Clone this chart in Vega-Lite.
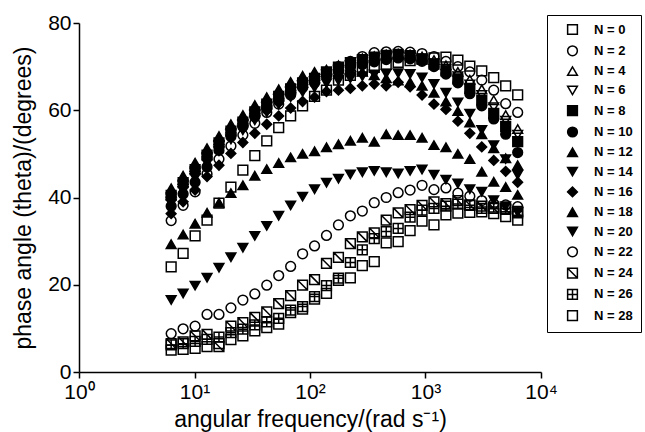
{
"$schema":"https://vega.github.io/schema/vega-lite/v6.json",
"width":462,"height":349,
"autosize":{"type":"none"},
"padding":{"left":79,"top":23,"right":104,"bottom":60},
"background":"white",
"config":{"view":{"stroke":null},"font":"Liberation Sans",
"axis":{"domainColor":"black","tickColor":"black","labelColor":"black","titleColor":"black","grid":false,"labelFontSize":21,"titleFontSize":23,"titleFontWeight":"normal","domainWidth":1.5,"tickWidth":1.5,"tickSize":6,"labelFont":"Liberation Sans","titleFont":"Liberation Sans"},
"legend":{"orient":"none","legendX":468,"legendY":-8,"strokeColor":"black","padding":8,"rowPadding":4.3,"labelFontSize":13,"labelFontWeight":"bold","labelFont":"Liberation Sans","labelColor":"black","symbolSize":95,"symbolStrokeWidth":1.5,"symbolStrokeColor":"black","direction":"vertical","columns":1}},
"data":{"values":[
{"N":0,"f":6.28,"y":24.1},{"N":0,"f":7.97,"y":27.2},{"N":0,"f":10.12,"y":31.2},{"N":0,"f":12.84,"y":34.8},{"N":0,"f":16.29,"y":38.7},{"N":0,"f":20.67,"y":42.4},{"N":0,"f":26.23,"y":46.3},{"N":0,"f":33.28,"y":49.6},{"N":0,"f":42.23,"y":53.0},{"N":0,"f":53.58,"y":56.0},{"N":0,"f":67.99,"y":58.7},{"N":0,"f":86.27,"y":61.0},{"N":0,"f":109.5,"y":63.2},{"N":0,"f":138.9,"y":64.6},{"N":0,"f":176.3,"y":66.9},{"N":0,"f":223.6,"y":68.0},{"N":0,"f":283.8,"y":69.0},{"N":0,"f":360.1,"y":69.8},{"N":0,"f":456.9,"y":70.5},{"N":0,"f":579.8,"y":71.0},{"N":0,"f":735.7,"y":71.4},{"N":0,"f":933.5,"y":71.7},{"N":0,"f":1184,"y":72.0},{"N":0,"f":1503,"y":72.2},{"N":0,"f":1907,"y":71.5},{"N":0,"f":2420,"y":70.1},{"N":0,"f":3071,"y":69.0},{"N":0,"f":3897,"y":67.5},{"N":0,"f":4945,"y":65.6},{"N":0,"f":6283,"y":63.5},
{"N":2,"f":6.28,"y":34.7},{"N":2,"f":7.97,"y":38.2},{"N":2,"f":10.12,"y":41.3},{"N":2,"f":12.84,"y":45.4},{"N":2,"f":16.29,"y":48.8},{"N":2,"f":20.67,"y":51.8},{"N":2,"f":26.23,"y":54.3},{"N":2,"f":33.28,"y":57.0},{"N":2,"f":42.23,"y":59.5},{"N":2,"f":53.58,"y":61.4},{"N":2,"f":67.99,"y":63.5},{"N":2,"f":86.27,"y":65.5},{"N":2,"f":109.5,"y":67.0},{"N":2,"f":138.9,"y":68.5},{"N":2,"f":176.3,"y":70.0},{"N":2,"f":223.6,"y":71.2},{"N":2,"f":283.8,"y":72.3},{"N":2,"f":360.1,"y":73.2},{"N":2,"f":456.9,"y":73.4},{"N":2,"f":579.8,"y":73.5},{"N":2,"f":735.7,"y":73.3},{"N":2,"f":933.5,"y":73.0},{"N":2,"f":1184,"y":72.3},{"N":2,"f":1503,"y":71.2},{"N":2,"f":1907,"y":70.0},{"N":2,"f":2420,"y":68.8},{"N":2,"f":3071,"y":66.9},{"N":2,"f":3897,"y":64.6},{"N":2,"f":4945,"y":61.5},{"N":2,"f":6283,"y":59.5},
{"N":4,"f":6.28,"y":41.1},{"N":4,"f":7.97,"y":44.0},{"N":4,"f":10.12,"y":47.0},{"N":4,"f":12.84,"y":50.3},{"N":4,"f":16.29,"y":53.1},{"N":4,"f":20.67,"y":55.8},{"N":4,"f":26.23,"y":57.9},{"N":4,"f":33.28,"y":60.2},{"N":4,"f":42.23,"y":62.0},{"N":4,"f":53.58,"y":63.8},{"N":4,"f":67.99,"y":65.5},{"N":4,"f":86.27,"y":66.9},{"N":4,"f":109.5,"y":67.9},{"N":4,"f":138.9,"y":69.2},{"N":4,"f":176.3,"y":70.3},{"N":4,"f":223.6,"y":71.2},{"N":4,"f":283.8,"y":71.9},{"N":4,"f":360.1,"y":72.4},{"N":4,"f":456.9,"y":72.8},{"N":4,"f":579.8,"y":73.0},{"N":4,"f":735.7,"y":72.8},{"N":4,"f":933.5,"y":72.3},{"N":4,"f":1184,"y":71.5},{"N":4,"f":1503,"y":70.3},{"N":4,"f":1907,"y":68.8},{"N":4,"f":2420,"y":67.0},{"N":4,"f":3071,"y":64.8},{"N":4,"f":3897,"y":62.3},{"N":4,"f":4945,"y":58.9},{"N":4,"f":6283,"y":55.7},
{"N":6,"f":6.28,"y":39.8},{"N":6,"f":7.97,"y":42.7},{"N":6,"f":10.12,"y":45.7},{"N":6,"f":12.84,"y":49.0},{"N":6,"f":16.29,"y":51.8},{"N":6,"f":20.67,"y":54.5},{"N":6,"f":26.23,"y":56.6},{"N":6,"f":33.28,"y":58.9},{"N":6,"f":42.23,"y":60.7},{"N":6,"f":53.58,"y":62.5},{"N":6,"f":67.99,"y":64.2},{"N":6,"f":86.27,"y":65.6},{"N":6,"f":109.5,"y":66.6},{"N":6,"f":138.9,"y":68.2},{"N":6,"f":176.3,"y":69.3},{"N":6,"f":223.6,"y":70.3},{"N":6,"f":283.8,"y":71.0},{"N":6,"f":360.1,"y":71.6},{"N":6,"f":456.9,"y":72.0},{"N":6,"f":579.8,"y":72.3},{"N":6,"f":735.7,"y":72.1},{"N":6,"f":933.5,"y":71.6},{"N":6,"f":1184,"y":70.8},{"N":6,"f":1503,"y":69.5},{"N":6,"f":1907,"y":67.8},{"N":6,"f":2420,"y":65.9},{"N":6,"f":3071,"y":63.5},{"N":6,"f":3897,"y":60.7},{"N":6,"f":4945,"y":57.6},{"N":6,"f":6283,"y":54.4},
{"N":8,"f":6.28,"y":40.5},{"N":8,"f":7.97,"y":43.4},{"N":8,"f":10.12,"y":46.4},{"N":8,"f":12.84,"y":49.7},{"N":8,"f":16.29,"y":52.5},{"N":8,"f":20.67,"y":55.2},{"N":8,"f":26.23,"y":57.3},{"N":8,"f":33.28,"y":59.6},{"N":8,"f":42.23,"y":61.4},{"N":8,"f":53.58,"y":63.2},{"N":8,"f":67.99,"y":64.9},{"N":8,"f":86.27,"y":66.3},{"N":8,"f":109.5,"y":67.3},{"N":8,"f":138.9,"y":68.8},{"N":8,"f":176.3,"y":69.9},{"N":8,"f":223.6,"y":70.9},{"N":8,"f":283.8,"y":71.6},{"N":8,"f":360.1,"y":72.2},{"N":8,"f":456.9,"y":72.6},{"N":8,"f":579.8,"y":72.8},{"N":8,"f":735.7,"y":72.5},{"N":8,"f":933.5,"y":71.8},{"N":8,"f":1184,"y":70.6},{"N":8,"f":1503,"y":69.0},{"N":8,"f":1907,"y":67.2},{"N":8,"f":2420,"y":65.0},{"N":8,"f":3071,"y":62.3},{"N":8,"f":3897,"y":59.3},{"N":8,"f":4945,"y":56.3},{"N":8,"f":6283,"y":52.8},
{"N":10,"f":6.28,"y":38.0},{"N":10,"f":7.97,"y":40.8},{"N":10,"f":10.12,"y":43.5},{"N":10,"f":12.84,"y":47.0},{"N":10,"f":16.29,"y":50.8},{"N":10,"f":20.67,"y":54.0},{"N":10,"f":26.23,"y":56.2},{"N":10,"f":33.28,"y":58.5},{"N":10,"f":42.23,"y":60.3},{"N":10,"f":53.58,"y":62.1},{"N":10,"f":67.99,"y":63.8},{"N":10,"f":86.27,"y":65.2},{"N":10,"f":109.5,"y":66.3},{"N":10,"f":138.9,"y":67.8},{"N":10,"f":176.3,"y":68.9},{"N":10,"f":223.6,"y":69.8},{"N":10,"f":283.8,"y":70.5},{"N":10,"f":360.1,"y":71.1},{"N":10,"f":456.9,"y":71.6},{"N":10,"f":579.8,"y":72.0},{"N":10,"f":735.7,"y":71.8},{"N":10,"f":933.5,"y":71.2},{"N":10,"f":1184,"y":70.0},{"N":10,"f":1503,"y":68.3},{"N":10,"f":1907,"y":66.3},{"N":10,"f":2420,"y":63.8},{"N":10,"f":3071,"y":61.0},{"N":10,"f":3897,"y":58.0},{"N":10,"f":4945,"y":54.5},{"N":10,"f":6283,"y":50.3},
{"N":12,"f":6.28,"y":42.1},{"N":12,"f":7.97,"y":45.0},{"N":12,"f":10.12,"y":48.0},{"N":12,"f":12.84,"y":51.3},{"N":12,"f":16.29,"y":54.1},{"N":12,"f":20.67,"y":56.8},{"N":12,"f":26.23,"y":58.9},{"N":12,"f":33.28,"y":61.2},{"N":12,"f":42.23,"y":63.0},{"N":12,"f":53.58,"y":64.8},{"N":12,"f":67.99,"y":66.5},{"N":12,"f":86.27,"y":67.9},{"N":12,"f":109.5,"y":68.8},{"N":12,"f":138.9,"y":69.3},{"N":12,"f":176.3,"y":69.5},{"N":12,"f":223.6,"y":69.3},{"N":12,"f":283.8,"y":68.8},{"N":12,"f":360.1,"y":68.0},{"N":12,"f":456.9,"y":67.3},{"N":12,"f":579.8,"y":66.8},{"N":12,"f":735.7,"y":66.4},{"N":12,"f":933.5,"y":65.6},{"N":12,"f":1184,"y":64.0},{"N":12,"f":1503,"y":62.0},{"N":12,"f":1907,"y":59.8},{"N":12,"f":2420,"y":57.2},{"N":12,"f":3071,"y":54.5},{"N":12,"f":3897,"y":51.3},{"N":12,"f":4945,"y":49.0},{"N":12,"f":6283,"y":47.4},
{"N":14,"f":6.28,"y":38.6},{"N":14,"f":7.97,"y":41.5},{"N":14,"f":10.12,"y":44.5},{"N":14,"f":12.84,"y":47.8},{"N":14,"f":16.29,"y":50.6},{"N":14,"f":20.67,"y":53.3},{"N":14,"f":26.23,"y":55.4},{"N":14,"f":33.28,"y":57.7},{"N":14,"f":42.23,"y":59.5},{"N":14,"f":53.58,"y":61.3},{"N":14,"f":67.99,"y":63.0},{"N":14,"f":86.27,"y":64.2},{"N":14,"f":109.5,"y":65.2},{"N":14,"f":138.9,"y":66.2},{"N":14,"f":176.3,"y":66.8},{"N":14,"f":223.6,"y":67.3},{"N":14,"f":283.8,"y":67.8},{"N":14,"f":360.1,"y":68.2},{"N":14,"f":456.9,"y":68.4},{"N":14,"f":579.8,"y":68.5},{"N":14,"f":735.7,"y":68.3},{"N":14,"f":933.5,"y":67.5},{"N":14,"f":1184,"y":66.0},{"N":14,"f":1503,"y":64.0},{"N":14,"f":1907,"y":61.8},{"N":14,"f":2420,"y":59.2},{"N":14,"f":3071,"y":55.5},{"N":14,"f":3897,"y":52.0},{"N":14,"f":4945,"y":48.8},{"N":14,"f":6283,"y":45.2},
{"N":16,"f":6.28,"y":36.3},{"N":16,"f":7.97,"y":39.0},{"N":16,"f":10.12,"y":41.7},{"N":16,"f":12.84,"y":44.8},{"N":16,"f":16.29,"y":47.4},{"N":16,"f":20.67,"y":50.1},{"N":16,"f":26.23,"y":52.6},{"N":16,"f":33.28,"y":54.7},{"N":16,"f":42.23,"y":56.8},{"N":16,"f":53.58,"y":58.7},{"N":16,"f":67.99,"y":60.5},{"N":16,"f":86.27,"y":62.0},{"N":16,"f":109.5,"y":63.0},{"N":16,"f":138.9,"y":64.3},{"N":16,"f":176.3,"y":64.6},{"N":16,"f":223.6,"y":65.0},{"N":16,"f":283.8,"y":65.6},{"N":16,"f":360.1,"y":66.0},{"N":16,"f":456.9,"y":65.6},{"N":16,"f":579.8,"y":66.4},{"N":16,"f":735.7,"y":65.4},{"N":16,"f":933.5,"y":63.5},{"N":16,"f":1184,"y":61.4},{"N":16,"f":1503,"y":60.2},{"N":16,"f":1907,"y":57.5},{"N":16,"f":2420,"y":54.7},{"N":16,"f":3071,"y":51.6},{"N":16,"f":3897,"y":48.5},{"N":16,"f":4945,"y":46.0},{"N":16,"f":6283,"y":43.5},
{"N":18,"f":6.28,"y":29.3},{"N":18,"f":7.97,"y":31.5},{"N":18,"f":10.12,"y":34.0},{"N":18,"f":12.84,"y":36.5},{"N":18,"f":16.29,"y":38.8},{"N":18,"f":20.67,"y":41.0},{"N":18,"f":26.23,"y":42.8},{"N":18,"f":33.28,"y":45.0},{"N":18,"f":42.23,"y":46.5},{"N":18,"f":53.58,"y":47.9},{"N":18,"f":67.99,"y":49.2},{"N":18,"f":86.27,"y":50.0},{"N":18,"f":109.5,"y":50.6},{"N":18,"f":138.9,"y":51.5},{"N":18,"f":176.3,"y":52.2},{"N":18,"f":223.6,"y":53.0},{"N":18,"f":283.8,"y":53.7},{"N":18,"f":360.1,"y":52.8},{"N":18,"f":456.9,"y":54.5},{"N":18,"f":579.8,"y":54.3},{"N":18,"f":735.7,"y":54.3},{"N":18,"f":933.5,"y":53.7},{"N":18,"f":1184,"y":52.0},{"N":18,"f":1503,"y":51.5},{"N":18,"f":1907,"y":50.0},{"N":18,"f":2420,"y":48.8},{"N":18,"f":3071,"y":45.9},{"N":18,"f":3897,"y":43.6},{"N":18,"f":4945,"y":42.4},{"N":18,"f":6283,"y":40.6},
{"N":20,"f":6.28,"y":16.5},{"N":20,"f":7.97,"y":18.0},{"N":20,"f":10.12,"y":19.8},{"N":20,"f":12.84,"y":21.6},{"N":20,"f":16.29,"y":23.9},{"N":20,"f":20.67,"y":26.3},{"N":20,"f":26.23,"y":28.5},{"N":20,"f":33.28,"y":31.2},{"N":20,"f":42.23,"y":33.5},{"N":20,"f":53.58,"y":35.8},{"N":20,"f":67.99,"y":38.2},{"N":20,"f":86.27,"y":40.2},{"N":20,"f":109.5,"y":41.9},{"N":20,"f":138.9,"y":43.4},{"N":20,"f":176.3,"y":44.3},{"N":20,"f":223.6,"y":45.3},{"N":20,"f":283.8,"y":45.8},{"N":20,"f":360.1,"y":46.1},{"N":20,"f":456.9,"y":45.8},{"N":20,"f":579.8,"y":45.5},{"N":20,"f":735.7,"y":46.1},{"N":20,"f":933.5,"y":46.4},{"N":20,"f":1184,"y":45.2},{"N":20,"f":1503,"y":44.1},{"N":20,"f":1907,"y":43.2},{"N":20,"f":2420,"y":41.9},{"N":20,"f":3071,"y":41.3},{"N":20,"f":3897,"y":39.4},{"N":20,"f":4945,"y":38.0},{"N":20,"f":6283,"y":36.6},
{"N":22,"f":6.28,"y":8.8},{"N":22,"f":7.97,"y":9.9},{"N":22,"f":10.12,"y":10.5},{"N":22,"f":12.84,"y":13.2},{"N":22,"f":16.29,"y":13.2},{"N":22,"f":20.67,"y":14.7},{"N":22,"f":26.23,"y":16.5},{"N":22,"f":33.28,"y":17.9},{"N":22,"f":42.23,"y":19.9},{"N":22,"f":53.58,"y":22.1},{"N":22,"f":67.99,"y":24.2},{"N":22,"f":86.27,"y":27.1},{"N":22,"f":109.5,"y":28.9},{"N":22,"f":138.9,"y":31.3},{"N":22,"f":176.3,"y":33.7},{"N":22,"f":223.6,"y":35.8},{"N":22,"f":283.8,"y":36.9},{"N":22,"f":360.1,"y":38.8},{"N":22,"f":456.9,"y":40.0},{"N":22,"f":579.8,"y":41.1},{"N":22,"f":735.7,"y":41.7},{"N":22,"f":933.5,"y":42.8},{"N":22,"f":1184,"y":41.8},{"N":22,"f":1503,"y":42.2},{"N":22,"f":1907,"y":41.0},{"N":22,"f":2420,"y":40.3},{"N":22,"f":3071,"y":39.3},{"N":22,"f":3897,"y":38.6},{"N":22,"f":4945,"y":38.3},{"N":22,"f":6283,"y":37.9},
{"N":24,"f":6.28,"y":6.5},{"N":24,"f":7.97,"y":6.9},{"N":24,"f":10.12,"y":8.3},{"N":24,"f":12.84,"y":8.6},{"N":24,"f":16.29,"y":5.8},{"N":24,"f":20.67,"y":10.5},{"N":24,"f":26.23,"y":11.3},{"N":24,"f":33.28,"y":12.5},{"N":24,"f":42.23,"y":13.8},{"N":24,"f":53.58,"y":15.7},{"N":24,"f":67.99,"y":17.5},{"N":24,"f":86.27,"y":19.9},{"N":24,"f":109.5,"y":21.2},{"N":24,"f":138.9,"y":24.9},{"N":24,"f":176.3,"y":26.3},{"N":24,"f":223.6,"y":29.4},{"N":24,"f":283.8,"y":31.0},{"N":24,"f":360.1,"y":31.9},{"N":24,"f":456.9,"y":34.8},{"N":24,"f":579.8,"y":36.5},{"N":24,"f":735.7,"y":37.2},{"N":24,"f":933.5,"y":38.2},{"N":24,"f":1184,"y":39.0},{"N":24,"f":1503,"y":38.6},{"N":24,"f":1907,"y":39.3},{"N":24,"f":2420,"y":38.3},{"N":24,"f":3071,"y":38.0},{"N":24,"f":3897,"y":37.5},{"N":24,"f":4945,"y":37.3},{"N":24,"f":6283,"y":36.5},
{"N":26,"f":6.28,"y":6.2},{"N":26,"f":7.97,"y":6.5},{"N":26,"f":10.12,"y":7.0},{"N":26,"f":12.84,"y":7.5},{"N":26,"f":16.29,"y":8.0},{"N":26,"f":20.67,"y":9.0},{"N":26,"f":26.23,"y":9.8},{"N":26,"f":33.28,"y":10.8},{"N":26,"f":42.23,"y":11.5},{"N":26,"f":53.58,"y":12.3},{"N":26,"f":67.99,"y":14.2},{"N":26,"f":86.27,"y":15.0},{"N":26,"f":109.5,"y":17.3},{"N":26,"f":138.9,"y":19.8},{"N":26,"f":176.3,"y":21.5},{"N":26,"f":223.6,"y":25.1},{"N":26,"f":283.8,"y":28.0},{"N":26,"f":360.1,"y":30.6},{"N":26,"f":456.9,"y":32.2},{"N":26,"f":579.8,"y":32.9},{"N":26,"f":735.7,"y":35.5},{"N":26,"f":933.5,"y":37.1},{"N":26,"f":1184,"y":37.5},{"N":26,"f":1503,"y":38.0},{"N":26,"f":1907,"y":38.5},{"N":26,"f":2420,"y":38.2},{"N":26,"f":3071,"y":37.5},{"N":26,"f":3897,"y":37.8},{"N":26,"f":4945,"y":37.5},{"N":26,"f":6283,"y":36.8},
{"N":28,"f":6.28,"y":5.0},{"N":28,"f":7.97,"y":5.2},{"N":28,"f":10.12,"y":5.4},{"N":28,"f":12.84,"y":5.8},{"N":28,"f":16.29,"y":6.5},{"N":28,"f":20.67,"y":7.4},{"N":28,"f":26.23,"y":8.3},{"N":28,"f":33.28,"y":9.4},{"N":28,"f":42.23,"y":10.2},{"N":28,"f":53.58,"y":11.0},{"N":28,"f":67.99,"y":13.6},{"N":28,"f":86.27,"y":14.4},{"N":28,"f":109.5,"y":16.7},{"N":28,"f":138.9,"y":18.0},{"N":28,"f":176.3,"y":21.0},{"N":28,"f":223.6,"y":21.6},{"N":28,"f":283.8,"y":24.4},{"N":28,"f":360.1,"y":25.3},{"N":28,"f":456.9,"y":29.6},{"N":28,"f":579.8,"y":29.9},{"N":28,"f":735.7,"y":32.4},{"N":28,"f":933.5,"y":34.6},{"N":28,"f":1184,"y":33.7},{"N":28,"f":1503,"y":36.0},{"N":28,"f":1907,"y":36.4},{"N":28,"f":2420,"y":36.6},{"N":28,"f":3071,"y":36.7},{"N":28,"f":3897,"y":36.3},{"N":28,"f":4945,"y":35.6},{"N":28,"f":6283,"y":34.8}
]},
"mark":{"type":"point","filled":true,"strokeWidth":1.5,"size":95,"opacity":1},
"encoding":{
"x":{"field":"f","type":"quantitative","scale":{"type":"log","domain":[1,10000]},"axis":{"values":[1,10,100,1000,10000],"labelExpr":"'10' + (datum.value < 5 ? '⁰' : datum.value < 50 ? '¹' : datum.value < 500 ? '²' : datum.value < 5000 ? '³' : '⁴')","title":"angular frequency/(rad s⁻¹)","labelPadding":3,"titlePadding":6,"labelFlush":false}},
"y":{"field":"y","type":"quantitative","scale":{"domain":[0,80]},"axis":{"values":[0,20,40,60,80],"title":"phase angle (theta)/(degrees)","titlePadding":12}},
"shape":{"field":"N","type":"nominal","scale":{"domain":[0,2,4,6,8,10,12,14,16,18,20,22,24,26,28],"range":["square","circle","triangle-up","triangle-down","square","circle","triangle-up","triangle-down","diamond","triangle-up","triangle-down","circle","M-1,-1H1V1H-1Z M-1,-1L1,1","M-1,-1H1V1H-1Z M0,-1V1 M-1,0H1","square"]},"legend":{"title":null,"labelExpr":"'N = ' + datum.label","symbolOffset":11,"labelOffset":15}},
"fill":{"field":"N","type":"nominal","scale":{"domain":[0,2,4,6,8,10,12,14,16,18,20,22,24,26,28],"range":["transparent","transparent","transparent","transparent","black","black","black","black","black","black","black","transparent","transparent","transparent","transparent"]},"legend":null},
"stroke":{"field":"N","type":"nominal","scale":{"domain":[0,2,4,6,8,10,12,14,16,18,20,22,24,26,28],"range":["black","black","black","black","black","black","black","black","black","black","black","black","black","black","black"]},"legend":null}
}
}
